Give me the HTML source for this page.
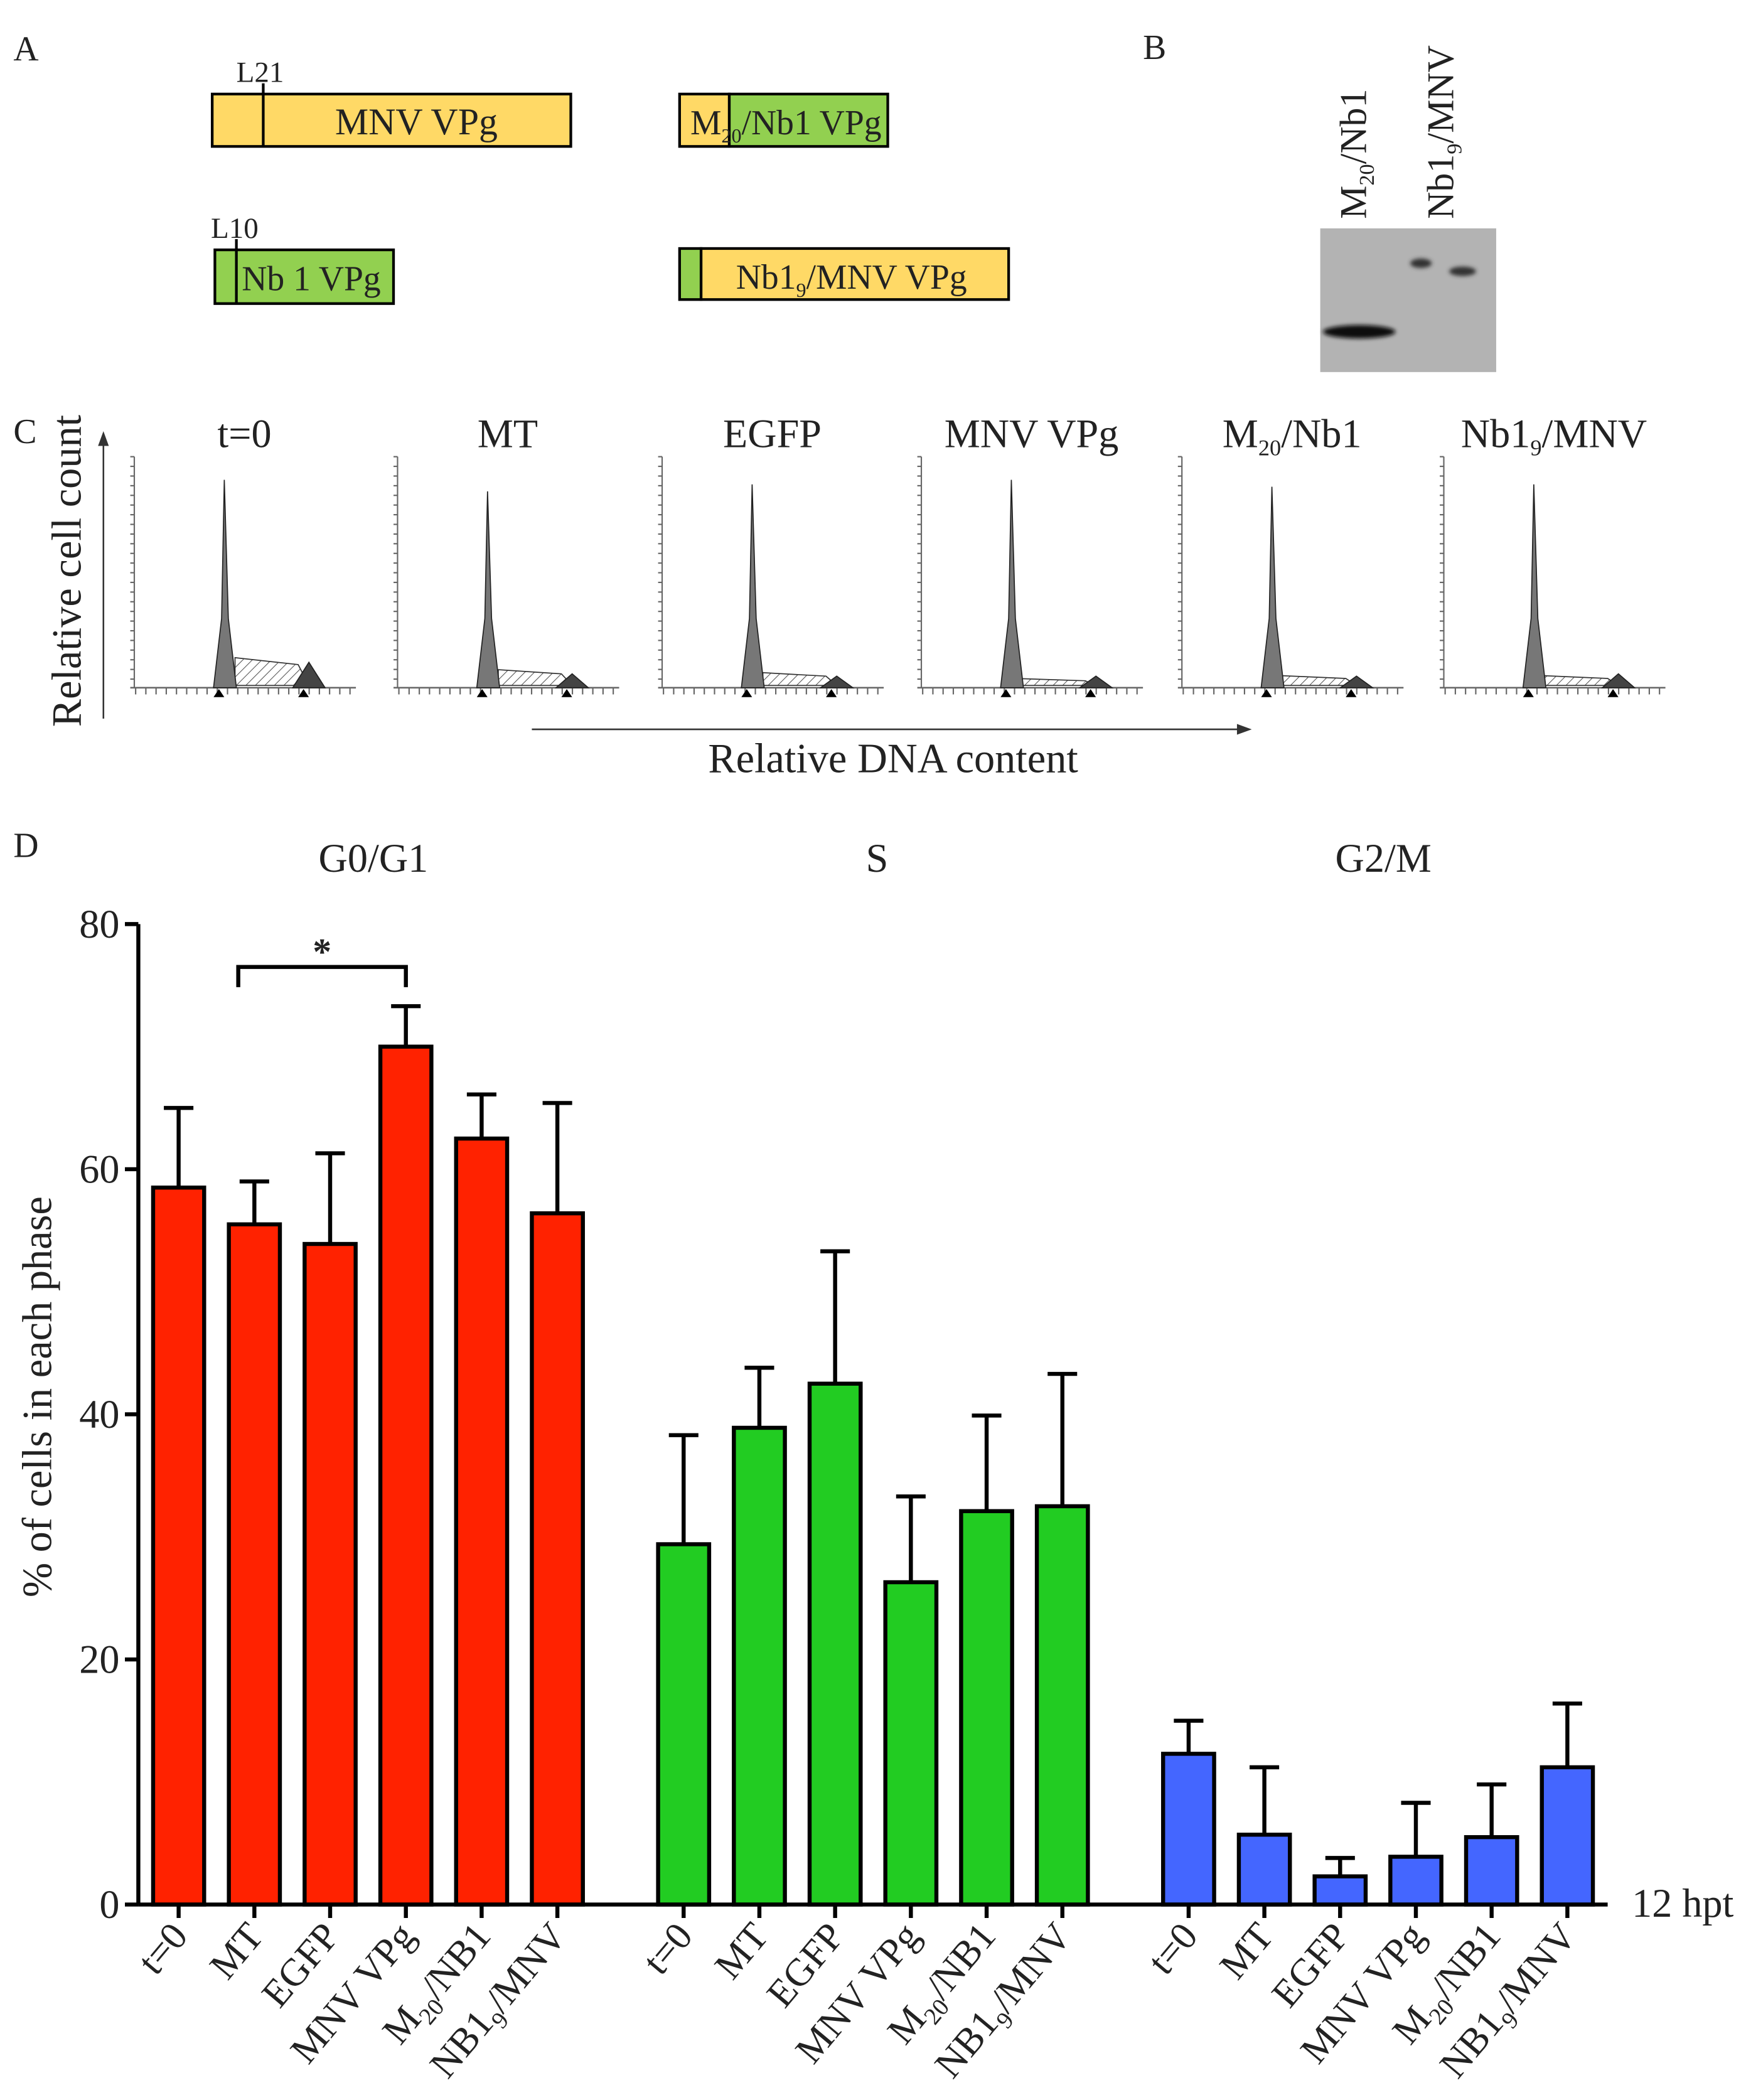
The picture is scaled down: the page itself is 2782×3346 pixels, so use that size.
<!DOCTYPE html>
<html><head><meta charset="utf-8"><style>
html,body{margin:0;padding:0;background:#fff}
svg{display:block}
text{font-family:"Liberation Serif",serif;fill:#222}
</style></head><body>
<svg id="fig" width="2782" height="3346" viewBox="0 0 1300 1563.5" xmlns="http://www.w3.org/2000/svg">
<defs>
<pattern id="hatch" width="5" height="5" patternUnits="userSpaceOnUse" patternTransform="rotate(45)">
<line x1="0" y1="0" x2="0" y2="5" stroke="#555" stroke-width="1"/></pattern>
<filter id="blur"><feGaussianBlur stdDeviation="1.5"/></filter>
</defs>
<!-- Panel A -->
<g>
<text x="10" y="45" font-size="26">A</text>
<rect x="158" y="70" width="267" height="39" fill="#FFD966" stroke="#000" stroke-width="2"/>
<line x1="196" y1="62" x2="196" y2="109" stroke="#000" stroke-width="2"/>
<text x="176" y="61" font-size="22">L21</text>
<text x="310" y="100" font-size="28" text-anchor="middle">MNV VPg</text>
<rect x="506" y="70" width="37" height="39" fill="#FFD966" stroke="#000" stroke-width="2"/>
<rect x="543" y="70" width="118" height="39" fill="#92D050" stroke="#000" stroke-width="2"/>
<text x="514" y="100" font-size="26">M<tspan font-size="15" dy="6">20</tspan><tspan dy="-6">/Nb1 VPg</tspan></text>
<rect x="160" y="186" width="133" height="40" fill="#92D050" stroke="#000" stroke-width="2"/>
<line x1="176" y1="178" x2="176" y2="226" stroke="#000" stroke-width="2"/>
<text x="157" y="177" font-size="22">L10</text>
<text x="180" y="216" font-size="26">Nb 1 VPg</text>
<rect x="506" y="185" width="16" height="38" fill="#92D050" stroke="#000" stroke-width="2"/>
<rect x="522" y="185" width="229" height="38" fill="#FFD966" stroke="#000" stroke-width="2"/>
<text x="548" y="215" font-size="26">Nb1<tspan font-size="15" dy="6">9</tspan><tspan dy="-6">/MNV VPg</tspan></text>
</g>
<!-- Panel B -->
<g>
<text x="851" y="44" font-size="26">B</text>
<text transform="translate(1017,163) rotate(-90)" font-size="28">M<tspan font-size="16" dy="6">20</tspan><tspan dy="-6">/Nb1</tspan></text>
<text transform="translate(1082,163) rotate(-90)" font-size="28">Nb1<tspan font-size="16" dy="6">9</tspan><tspan dy="-6">/MNV</tspan></text>
<rect x="983" y="170" width="131" height="107" fill="#b3b3b3"/>
<g filter="url(#blur)">
<ellipse cx="1012" cy="247" rx="27" ry="5" fill="#111"/>
<ellipse cx="1058" cy="196" rx="8" ry="3.5" fill="#333"/>
<ellipse cx="1089" cy="202" rx="10" ry="3.5" fill="#333"/>
</g>
</g>
<!-- Panel C -->
<g id="panelC">
<text x="10" y="330" font-size="26">C</text>
<text transform="translate(60,425) rotate(-90)" font-size="31" text-anchor="middle">Relative cell count</text>
<line x1="77" y1="535" x2="77" y2="326" stroke="#333" stroke-width="1.2"/>
<path d="M77,321 L73,332 L81,332 Z" fill="#333"/>
<line x1="396" y1="543" x2="926" y2="543" stroke="#333" stroke-width="1.2"/>
<path d="M932,543 L921,539 L921,547 Z" fill="#333"/>
<text x="665" y="575" font-size="31" text-anchor="middle">Relative DNA content</text>
</g>
<!-- Panel D -->
<g id="panelD">
<text x="10" y="638" font-size="26">D</text>
<text x="278" y="649" font-size="30" text-anchor="middle">G0/G1</text>
<text x="653" y="649" font-size="30" text-anchor="middle">S</text>
<text x="1030" y="649" font-size="30" text-anchor="middle">G2/M</text>
<text transform="translate(38,1040) rotate(-90)" font-size="31" text-anchor="middle">% of cells in each phase</text>
<text x="1215" y="1427" font-size="30">12 hpt</text>
</g>
</svg>
<script>
const NS='http://www.w3.org/2000/svg';
function mk(tag,attrs,parent){const e=document.createElementNS(NS,tag);for(const k in attrs)e.setAttribute(k,attrs[k]);parent.appendChild(e);return e;}

// Panel C data
const histTitles=['t=0','MT','EGFP','MNV VPg','M20/Nb1','Nb19/MNV'];
const g1Peak=[0.9,0.85,0.88,0.9,0.87,0.88];
const sLevel=[0.1,0.06,0.05,0.03,0.04,0.04];
const g2Peak=[0.11,0.06,0.05,0.05,0.05,0.06];
const pc=document.getElementById('panelC');
const hx0=[97,293,490,683,877,1072];
histTitles.forEach((t,i)=>{
  const g=mk('g',{},pc);
  
  
  const x=hx0[i],yb=512,h=172,w=168;
  const yv=v=>yb-v*h;
  mk('line',{x1:x+3,y1:340,x2:x+3,y2:yb,stroke:'#666','stroke-width':1},g);
  for(let k=0;k<24;k++)mk('line',{x1:x,y1:340+k*7.2,x2:x+3,y2:340+k*7.2,stroke:'#666','stroke-width':1},g);
  mk('line',{x1:x,y1:yb,x2:x+w,y2:yb,stroke:'#666','stroke-width':1.2},g);
  for(let k=0;k<22;k++)mk('line',{x1:x+4+k*7.6,y1:yb,x2:x+4+k*7.6,y2:yb+5,stroke:'#666','stroke-width':1},g);
  const p1=x+70,p2=x+133;
  mk('path',{d:`M${p1+8},${yv(0.01)} L${p1+8},${yv(sLevel[i]*1.3)} L${p2-8},${yv(sLevel[i])} L${p2},${yv(0.01)} Z`,fill:'url(#hatch)',stroke:'#333','stroke-width':0.8},g);
  mk('path',{d:`M${p1-8},${yb} L${p1-2},${yv(0.3)} L${p1},${yv(g1Peak[i])} L${p1+3},${yv(0.3)} L${p1+9},${yb} Z`,fill:'#777',stroke:'#222','stroke-width':0.8},g);
  mk('path',{d:`M${p2-12},${yb} L${p2},${yv(g2Peak[i])} L${p2+12},${yb} Z`,fill:'#444',stroke:'#222','stroke-width':0.8},g);
  mk('path',{d:`M${p1-4},${yb+7} l-4,0 l4,-6 l4,6 Z M${p2-4},${yb+7} l-4,0 l4,-6 l4,6 Z`,fill:'#000'},g);
  const tt=mk('text',{x:x+85,y:333,'font-size':30,'text-anchor':'middle'},g);
  
  
  if(t==='M20/Nb1')tt.innerHTML='M<tspan font-size="17" dy="6">20</tspan><tspan dy="-6">/Nb1</tspan>';
  else if(t==='Nb19/MNV')tt.innerHTML='Nb1<tspan font-size="17" dy="6">9</tspan><tspan dy="-6">/MNV</tspan>';
  else tt.textContent=t;
});

// Panel D data
const categories=['t=0','MT','EGFP','MNV VPg','M20/NB1','NB19/MNV'];
const g0g1Values=[58.5,55.5,53.9,70.0,62.5,56.4];
const g0g1ErrTop=[65.0,59.0,61.3,73.3,66.1,65.4];
const sValues=[29.4,38.9,42.5,26.3,32.1,32.5];
const sErrTop=[38.3,43.8,53.3,33.3,39.9,43.3];
const g2mValues=[12.3,5.7,2.3,3.9,5.5,11.2];
const g2mErrTop=[15.0,11.2,3.8,8.3,9.8,16.4];
const yTicks=[0,20,40,60,80];

const pd=document.getElementById('panelD');
const y0=1418,yTop=688,yMax=80;
const yS=v=>y0-(v/yMax)*(y0-yTop);
const groupStart=[133,509,885],step=56.4,bw=38;
const xS=(g,i)=>groupStart[g]+i*step;
const groups=[[g0g1Values,g0g1ErrTop,'#FF2200','g0g1'],[sValues,sErrTop,'#22CC22','s'],[g2mValues,g2mErrTop,'#4466FF','g2m']];

const yax=mk('line',{x1:103,y1:yTop,x2:103,y2:y0,stroke:'#000','stroke-width':3},pd);


yTicks.forEach(t=>{
  mk('line',{x1:93,y1:yS(t),x2:103,y2:yS(t),stroke:'#000','stroke-width':3},pd);
  const tx=mk('text',{x:89,y:yS(t)+10,'font-size':30,'text-anchor':'end'},pd);
  
  
  tx.textContent=t;
});
groups.forEach((gr,g)=>{
  const [vals,errs,col,key]=gr;
  vals.forEach((v,i)=>{
    const cx=xS(g,i);
    const e=mk('line',{x1:cx,y1:yS(v),x2:cx,y2:yS(errs[i]),stroke:'#000','stroke-width':3},pd);
    
    
    mk('line',{x1:cx-11,y1:yS(errs[i]),x2:cx+11,y2:yS(errs[i]),stroke:'#000','stroke-width':3},pd);
    const r=mk('rect',{x:cx-bw/2,y:yS(v),width:bw,height:y0-yS(v),fill:col,stroke:'#000','stroke-width':3},pd);
    
    
    mk('line',{x1:cx,y1:y0,x2:cx,y2:y0+10,stroke:'#000','stroke-width':3},pd);
    const c=categories[i];
    const tx=mk('text',{'font-size':29,'text-anchor':'end',transform:`translate(${cx+8},${y0+24}) rotate(-50)`},pd);
    
    
    if(c==='M20/NB1')tx.innerHTML='M<tspan font-size="18" dy="7">20</tspan><tspan dy="-7">/NB1</tspan>';
    else if(c==='NB19/MNV')tx.innerHTML='NB1<tspan font-size="18" dy="7">9</tspan><tspan dy="-7">/MNV</tspan>';
    else tx.textContent=c;
  });
});
const xax=mk('line',{x1:103,y1:y0,x2:1197,y2:y0,stroke:'#000','stroke-width':3},pd);


// significance bracket MT vs MNV VPg
const bx1=xS(0,1)-12,bx2=xS(0,3),by=yS(76.5);
const br=mk('path',{d:`M${bx1},${by+15} L${bx1},${by} L${bx2},${by} L${bx2},${by+15}`,fill:'none',stroke:'#000','stroke-width':3},pd);


const st=mk('text',{x:(bx1+bx2)/2,y:by-2,'font-size':28,'text-anchor':'middle','font-weight':'bold'},pd);


st.textContent='*';
</script>
</body></html>
